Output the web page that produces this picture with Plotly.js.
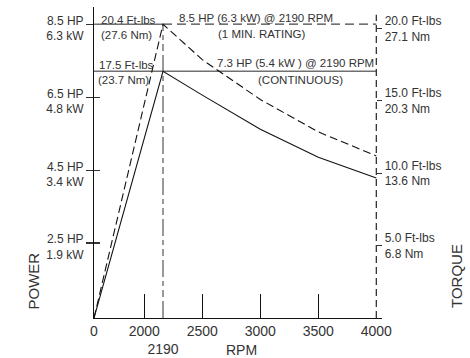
<!DOCTYPE html>
<html>
<head>
<meta charset="utf-8">
<script src="https://cdn.plot.ly/plotly-3.0.1.min.js"></script>
<style>html,body{margin:0;padding:0;background:#fff;}#chart{width:470px;height:358px;}</style>
</head>
<body>
<div id="chart"></div>
<script>
// ---- data ----
const rpm = [0, 2190, 2500, 3000, 3500, 4000];
const torqueOneMin = [0, 20.3, 17.85, 15.1, 12.86, 11.2];      // dashed (1 min rating)
const torqueContinuous = [0, 17.05, 15.4, 13.05, 11.1, 9.68];  // solid (continuous)
const ratingRpm = 2190;
const maxRpm = 4000;
const levelOneMin = 20.3;
const levelContinuous = 17.05;
const xTickRpm = [0, 2000, 2190, 2500, 3000, 3500, 4000];
const xTickText = ['0', '2000', '<br>2190', '2500', '3000', '3500', '4000'];
const xMarkRpm = [2000, 2500, 3000, 3500];
const powerTickHp = [2.5, 4.5, 6.5, 8.5];
const powerTickText = ['2.5 HP<br>1.9 kW', '4.5 HP<br>3.4 kW', '6.5 HP<br>4.8 kW', '8.5 HP<br>6.3 kW'];
const torqueTickFtLb = [5, 10, 15, 20];
const torqueTickText = ['5.0 Ft-lbs<br>6.8 Nm', '10.0 Ft-lbs<br>13.6 Nm', '15.0 Ft-lbs<br>20.3 Nm', '20.0 Ft-lbs<br>27.1 Nm'];

// ---- scale: the RPM axis is compressed below 2000 ----
const rpmKnots = [0, 2000, 2190, 2500, 4000];
const posKnots = [0, 50.3, 69, 108.3, 282.3];
function pos(r) {
  for (let i = 1; i < rpmKnots.length; i++) {
    if (r <= rpmKnots[i]) {
      const f = (r - rpmKnots[i-1]) / (rpmKnots[i] - rpmKnots[i-1]);
      return posKnots[i-1] + f * (posKnots[i] - posKnots[i-1]);
    }
  }
  return posKnots[posKnots.length-1];
}
const X = a => a.map(pos);

// ---- layout geometry ----
const L = 94, T = 7, W = 288, H = 311;
const P = (x, y) => ({x: (x - L) / W, y: (T + H - y) / H});
const FONT = 'Liberation Sans, Arial, sans-serif';
const TXT = '#333';
const torqueRange = [0, 21.49];
const hpRange = [0.445, 8.977];

const traces = [
  {x: X([ratingRpm, ratingRpm]), y: [0, levelOneMin], yaxis: 'y2', mode: 'lines',
   line: {color: '#808080', width: 1.6, dash: '17px,4px,7px,4px,5px,4px'}},
  {x: X([0, ratingRpm]), y: [levelOneMin, levelOneMin], yaxis: 'y2', mode: 'lines',
   line: {color: '#707070', width: 1.5}},
  {x: X([ratingRpm, maxRpm]), y: [levelOneMin, levelOneMin], yaxis: 'y2', mode: 'lines',
   line: {color: '#444', width: 1.3, dash: '9px,5px'}},
  {x: X([0, maxRpm]), y: [levelContinuous, levelContinuous], yaxis: 'y2', mode: 'lines',
   line: {color: '#707070', width: 1.5}},
  {x: X([maxRpm, maxRpm]), y: [0, 20.96], yaxis: 'y2', mode: 'lines',
   line: {color: '#222', width: 1.2, dash: '7px,4px'}},
  {x: X(rpm), y: torqueOneMin, yaxis: 'y2', mode: 'lines',
   line: {color: '#111', width: 1.1, dash: '8px,4px'}},
  {x: X(rpm), y: torqueContinuous, yaxis: 'y2', mode: 'lines',
   line: {color: '#111', width: 1.1}},
  {x: [], y: [], xaxis: 'x', yaxis: 'y'},
  {x: [], y: [], xaxis: 'x', yaxis: 'y3'},
  {x: [], y: [], xaxis: 'x2', yaxis: 'y'}
];

function ann(text, x, y, anchor, size) {
  const p = P(x, y);
  return {text: text, x: p.x, y: p.y, xref: 'paper', yref: 'paper', xanchor: anchor, yanchor: 'middle',
          showarrow: false, font: {family: FONT, size: size || 11.5, color: TXT}};
}

const annotations = [
  ann('20.4 Ft-lbs', 99, 19.5, 'left'),
  ann('(27.6 Nm)', 98.5, 34.5, 'left'),
  ann('17.5 Ft-lbs', 96.5, 65, 'left'),
  ann('(23.7 Nm)', 96, 80.5, 'left'),
  ann('8.5 HP (6.3 kW) @ 2190 RPM', 255.5, 17.5, 'center'),
  ann('(1 MIN. RATING)', 261.5, 33.5, 'center'),
  ann('7.3 HP (5.4 kW ) @ 2190 RPM', 295.5, 63.5, 'center'),
  ann('(CONTINUOUS)', 300, 79.5, 'center'),
  ann('RPM', 241, 349.5, 'center', 14),
  Object.assign(ann('POWER', 33, 281.5, 'center', 15), {textangle: -90}),
  Object.assign(ann('TORQUE', 456.5, 276.5, 'center', 15), {textangle: -90})
];

const layout = {
  width: 470, height: 358,
  margin: {l: L, r: 470 - L - W, t: T, b: 358 - T - H, pad: 0},
  paper_bgcolor: '#fff', plot_bgcolor: '#fff',
  showlegend: false,
  font: {family: FONT, color: TXT},
  xaxis: {range: [0, W], showgrid: false, zeroline: false, showline: true, linecolor: '#111', linewidth: 1,
          tickmode: 'array', tickvals: X(xTickRpm), ticktext: xTickText, ticks: '', tickangle: 0,
          tickfont: {family: FONT, size: 14, color: TXT}, fixedrange: true},
  xaxis2: {range: [0, W], overlaying: 'x', anchor: 'y', side: 'bottom', showgrid: false, zeroline: false,
           showline: false, tickmode: 'array', tickvals: X(xMarkRpm), ticks: 'inside', ticklen: 24,
           tickcolor: '#111', tickwidth: 1, showticklabels: false},
  yaxis: {range: hpRange, showgrid: false, zeroline: false, showline: true, linecolor: '#111', linewidth: 1,
          tickmode: 'array', tickvals: powerTickHp, ticktext: powerTickText, ticks: 'outside', ticklen: 7,
          ticklabelshift: 4,
          tickcolor: '#333', tickwidth: 1.2, tickfont: {family: FONT, size: 12, color: TXT}},
  yaxis3: {range: hpRange, overlaying: 'y', anchor: 'x', side: 'left', showgrid: false, zeroline: false,
           showline: false, tickmode: 'array', tickvals: powerTickHp.slice(0, 3), ticks: 'inside', ticklen: 6,
           tickcolor: '#333', tickwidth: 1.2, showticklabels: false},
  yaxis2: {range: torqueRange, overlaying: 'y', side: 'right', anchor: 'free', position: pos(maxRpm) / W,
           showgrid: false, zeroline: false, showline: false,
           tickmode: 'array', tickvals: torqueTickFtLb, ticktext: torqueTickText, ticks: 'outside', ticklen: 5,
           ticklabelshift: 1.5,
           tickcolor: '#333', tickwidth: 1, tickfont: {family: FONT, size: 12, color: TXT}},
  annotations: annotations
};

Plotly.newPlot('chart', traces, layout, {staticPlot: true, displayModeBar: false});
</script>
</body>
</html>
